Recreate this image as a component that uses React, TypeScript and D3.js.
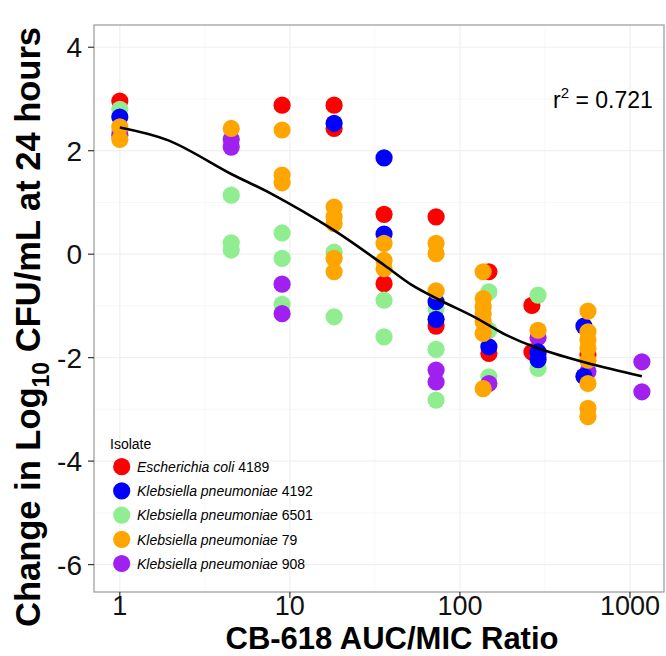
import React from "react";
import * as d3 from "d3";

// AUC/MIC ratio (x) and change in log10 CFU/mL (y)
const ecoli4189 = [
  [1, 2.96], [9, 2.88], [18.2, 2.88], [18.2, 2.43], [35.8, 0.77], [35.8, -0.57],
  [72.4, 0.72], [72.4, -1.39], [148, -0.34], [148, -1.92], [265, -0.99], [265, -1.89],
  [566, -1.95],
];
const kp6501 = [
  [1, 2.8], [1, 2.38], [4.52, 1.14], [4.52, 0.22], [4.52, 0.08], [9, 0.41], [9, -0.08],
  [9, -0.97], [18.2, 0.04], [18.2, -1.21], [35.8, -0.89], [35.8, -1.6], [72.4, -1.05],
  [72.4, -1.84], [72.4, -2.82], [148, -0.73], [148, -1.47], [148, -2.37], [288, -0.79],
  [288, -2.21],
];
const kp908 = [
  [1, 2.3], [4.52, 2.22], [4.52, 2.07], [9, -0.58], [9, -1.15], [72.4, -2.24],
  [72.4, -2.47], [148, -2.5], [288, -1.61], [288, -1.95], [566, -2.27], [1175, -2.08],
  [1175, -2.66],
];
const kp4192 = [
  [1, 2.65], [18.2, 2.53], [35.8, 1.86], [35.8, 0.39], [72.4, -0.92], [72.4, -1.26],
  [148, -1.79], [288, -1.89], [288, -2.04], [536, -1.39], [536, -2.36],
];
const kp79 = [
  [1, 2.46], [1, 2.22], [4.52, 2.43], [9, 2.4], [9, 1.53], [9, 1.38], [18.2, 0.91],
  [18.2, 0.72], [18.2, 0.59], [18.2, -0.08], [18.2, -0.34], [35.8, 0.21], [35.8, -0.12],
  [35.8, -0.28], [72.4, 0.21], [72.4, 0.01], [72.4, -0.71], [137, -0.34], [137, -0.86],
  [137, -1.02], [137, -1.15], [137, -1.31], [137, -1.53], [137, -2.6], [288, -1.47],
  [566, -1.1], [566, -1.5], [566, -1.66], [566, -1.82], [566, -2.05], [566, -2.5],
  [566, -2.98], [566, -3.14],
];

// fitted curve
const fitCurve = [
  [1, 2.45], [1.93, 2.2], [4.52, 1.55], [7.66, 1.18], [18.2, 0.46], [35.8, -0.21],
  [52.3, -0.6], [76.4, -0.89], [122.7, -1.22], [189, -1.57], [288, -1.82], [566, -2.11],
  [1175, -2.36],
];

const isolates = [
  { genus: "Escherichia coli", num: "4189", color: "#FF0000", data: ecoli4189 },
  { genus: "Klebsiella pneumoniae", num: "4192", color: "#0000FF", data: kp4192 },
  { genus: "Klebsiella pneumoniae", num: "6501", color: "#90EE90", data: kp6501 },
  { genus: "Klebsiella pneumoniae", num: "79", color: "#FFA500", data: kp79 },
  { genus: "Klebsiella pneumoniae", num: "908", color: "#A020F0", data: kp908 },
];
// drawing order of the point layers
const drawOrder = [0, 2, 4, 1, 3];

const xTicks = [1, 10, 100, 1000];
const xMinor = [Math.sqrt(10), Math.sqrt(1000), Math.sqrt(100000)];
const yTicks = [-6, -4, -2, 0, 2, 4];
const yMinor = [-5, -3, -1, 1, 3];

const FONT = "'Liberation Sans', Arial, Helvetica, sans-serif";

export default function App() {
  const left = 94, right = 664, top = 25, bottom = 592;
  const x = d3.scaleLog().domain([0.705, 1585]).range([left, right]);
  const y = d3.scaleLinear().domain([-6.53, 4.43]).range([bottom, top]);
  const line = d3
    .line<number[]>()
    .x(d => x(d[0]))
    .y(d => y(d[1]))
    .curve(d3.curveCatmullRom.alpha(0.5));

  return (
    <svg
      width={666}
      height={656}
      style={{ position: "absolute", left: 0, top: 0, background: "#fff" }}
      fontFamily={FONT}
    >
      {/* grid */}
      {xMinor.map(v => (
        <line key={"xm" + v} x1={x(v)} x2={x(v)} y1={top} y2={bottom} stroke="#f7f7f7" strokeWidth={1} />
      ))}
      {yMinor.map(v => (
        <line key={"ym" + v} x1={left} x2={right} y1={y(v)} y2={y(v)} stroke="#f7f7f7" strokeWidth={1} />
      ))}
      {xTicks.map(v => (
        <line key={"xg" + v} x1={x(v)} x2={x(v)} y1={top} y2={bottom} stroke="#f0f0f0" strokeWidth={1.2} />
      ))}
      {yTicks.map(v => (
        <line key={"yg" + v} x1={left} x2={right} y1={y(v)} y2={y(v)} stroke="#f0f0f0" strokeWidth={1.2} />
      ))}

      {/* points */}
      {drawOrder.map(i => (
        <g key={"s" + i}>
          {isolates[i].data.map((d, j) => (
            <circle key={j} cx={x(d[0])} cy={y(d[1])} r={8.6} fill={isolates[i].color} />
          ))}
        </g>
      ))}

      <path d={line(fitCurve) || ""} fill="none" stroke="#000" strokeWidth={2.6} />

      {/* panel border */}
      <rect x={left} y={top} width={right - left} height={bottom - top} fill="none" stroke="#a0a0a0" strokeWidth={1.3} />

      {/* axes */}
      {yTicks.map(v => (
        <g key={"yt" + v}>
          <line x1={left - 6} x2={left} y1={y(v)} y2={y(v)} stroke="#333" strokeWidth={1.2} />
          <text x={left - 12} y={y(v) + 10} textAnchor="end" fontSize={28} fill="#111">
            {v}
          </text>
        </g>
      ))}
      {xTicks.map(v => (
        <g key={"xt" + v}>
          <line x1={x(v)} x2={x(v)} y1={bottom} y2={bottom + 6} stroke="#333" strokeWidth={1.2} />
          <text x={x(v)} y={bottom + 23} textAnchor="middle" fontSize={27} fill="#111">
            {v}
          </text>
        </g>
      ))}

      <text x={392} y={649} textAnchor="middle" fontSize={31} fontWeight="bold" fill="#000">
        CB-618 AUC/MIC Ratio
      </text>
      <text
        transform={`translate(40,327) rotate(-90)`}
        textAnchor="middle"
        fontSize={34.5}
        fontWeight="bold"
        fill="#000"
      >
        Change in Log
        <tspan fontSize={23} dy={9}>10</tspan>
        <tspan dy={-9}> CFU/mL at 24 hours</tspan>
      </text>

      {/* r squared */}
      <text x={553} y={108} fontSize={23} fill="#000">
        r<tspan fontSize={15} dy={-10}>2</tspan>
        <tspan dy={10}> = 0.721</tspan>
      </text>

      {/* legend */}
      <text x={110} y={449} fontSize={14} fill="#000">Isolate</text>
      {isolates.map((s, i) => (
        <g key={"lg" + i} transform={`translate(0,${466.7 + i * 24.2})`}>
          <circle cx={121.7} cy={0} r={8.6} fill={s.color} />
          <text x={137} y={5.2} fontSize={14} fill="#000">
            <tspan fontStyle="italic">{s.genus}</tspan> {s.num}
          </text>
        </g>
      ))}
    </svg>
  );
}
